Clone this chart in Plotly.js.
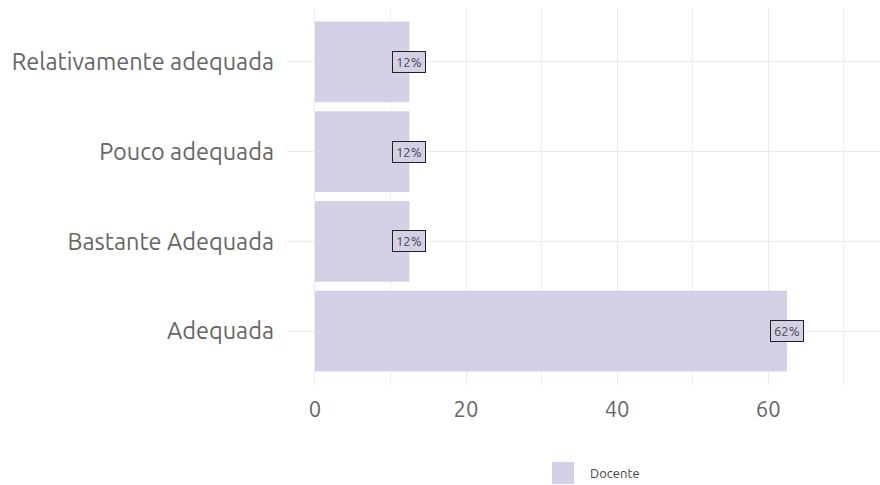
<!DOCTYPE html>
<html>
<head>
<meta charset="utf-8">
<script src="https://cdn.plot.ly/plotly-3.0.1.min.js"></script>
<style>html,body{margin:0;padding:0;background:#fff;}#chart{width:880px;height:485px;}</style>
</head>
<body>
<div id="chart"></div>
<script>
const categories = ["Adequada", "Bastante Adequada", "Pouco adequada", "Relativamente adequada"];
const values = [62.5, 12.5, 12.5, 12.5];
const labels = ["62%", "12%", "12%", "12%"];
const seriesName = "Docente";
const xTicks = [0, 20, 40, 60];

const barColor = "#d4d1e7";
const textColor = "#666666";
const font = "Ubuntu, 'Noto Sans', 'Open Sans', sans-serif";

const trace = {
  type: "bar",
  orientation: "h",
  x: values,
  y: categories,
  name: seriesName,
  width: 0.9,
  marker: {color: barColor},
  hoverinfo: "none",
  showlegend: false
};

const annotations = categories.map((c, i) => ({
  x: values[i], y: c, xref: "x", yref: "y",
  text: labels[i], showarrow: false,
  bgcolor: barColor, bordercolor: "#222", borderwidth: 1, borderpad: 3,
  font: {family: font, size: 13, color: "#444"}
}));
// legend entry (drawn as layout decoration)
annotations.push({
  xref: "paper", yref: "paper", x: 0.5075, y: -0.2335,
  xanchor: "left", yanchor: "middle", text: seriesName, showarrow: false,
  font: {family: font, size: 13, color: "#444"}
});

const layout = {
  width: 880, height: 485,
  margin: {l: 287, r: 0, t: 8, b: 100, autoexpand: false},
  paper_bgcolor: "#fff", plot_bgcolor: "#fff",
  font: {family: font, color: textColor},
  showlegend: false,
  xaxis: {
    range: [-3.7, 74.8],
    tickvals: xTicks,
    ticktext: xTicks.map(String),
    showgrid: true, gridcolor: "#ebebeb", gridwidth: 1,
    minor: {dtick: 20, tick0: 10, showgrid: true, gridcolor: "#f0f0f0", gridwidth: 1},
    zeroline: false, showline: false, ticks: "",
    tickfont: {family: font, size: 22, color: textColor},
    ticklabelstandoff: 9,
    fixedrange: true
  },
  yaxis: {
    type: "category",
    categoryorder: "array", categoryarray: categories,
    range: [-0.6, 3.6],
    showgrid: true, gridcolor: "#ebebeb", gridwidth: 1,
    zeroline: false, showline: false, ticks: "",
    tickfont: {family: font, size: 23.5, color: textColor},
    ticklabelstandoff: 12,
    fixedrange: true
  },
  shapes: [{
    type: "rect", xref: "paper", yref: "paper",
    x0: 0.4469, x1: 0.484, y0: -0.204, y1: -0.2626,
    fillcolor: barColor, line: {width: 0}
  }],
  annotations: annotations,
  bargap: 0.1
};

Plotly.newPlot("chart", [trace], layout, {staticPlot: true, displayModeBar: false});
</script>
</body>
</html>
